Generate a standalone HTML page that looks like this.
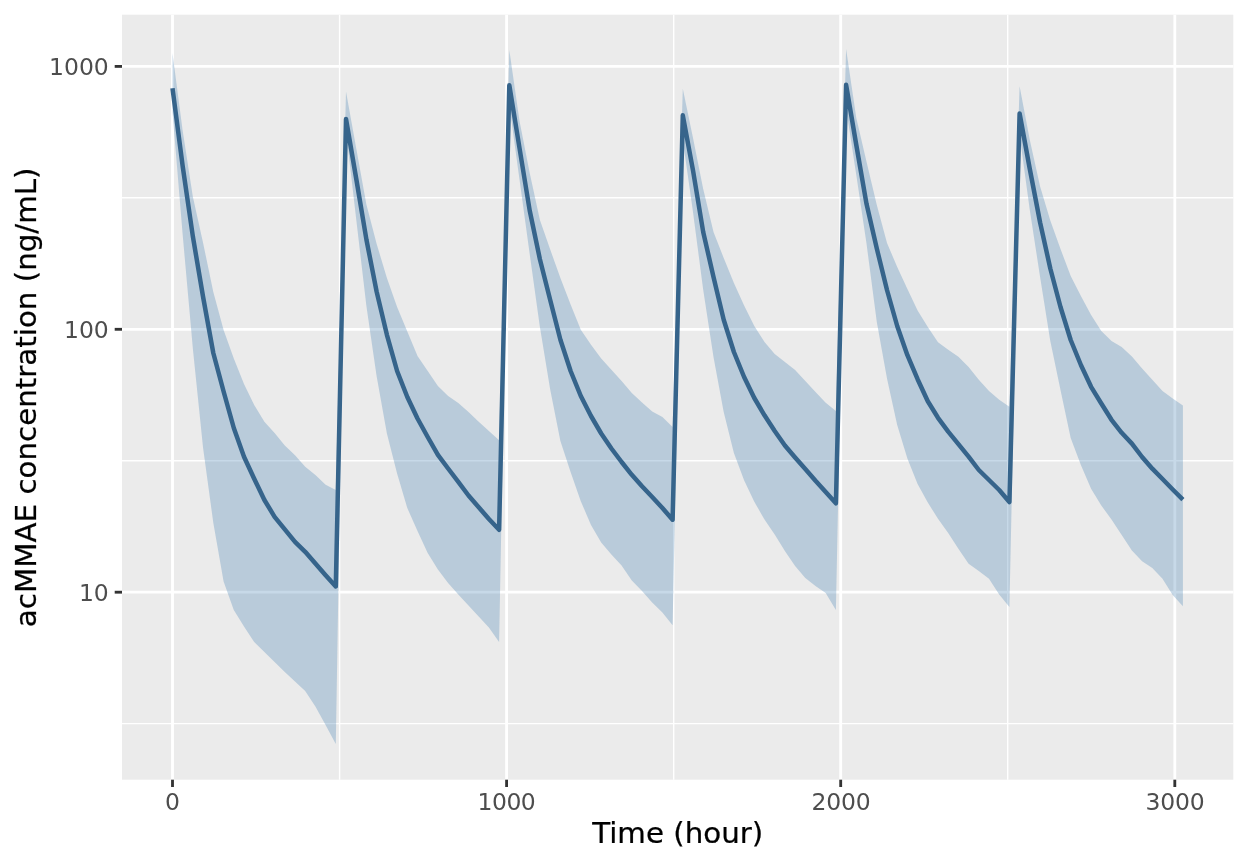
<!DOCTYPE html>
<html lang="en">
<head>
<meta charset="utf-8">
<title>acMMAE concentration vs time</title>
<style>
html,body{margin:0;padding:0;background:#fff;}
body{width:1248px;height:864px;overflow:hidden;}
svg{display:block;}
text{font-family:"DejaVu Sans","Liberation Sans",sans-serif;}
.tick{font-size:23.47px;fill:#4d4d4d;}
.title{font-size:29.33px;fill:#000;stroke:#000;stroke-width:0.25px;}
</style>
</head>
<body>
<svg width="1248" height="864" viewBox="0 0 1248 864">
<rect x="0" y="0" width="1248" height="864" fill="#ffffff"/>
<rect x="122" y="14.7" width="1111.3" height="765" fill="#ebebeb"/>
<g stroke="#ffffff" stroke-width="1.42" fill="none">
<line x1="122" x2="1233.3" y1="197.8" y2="197.8"/>
<line x1="122" x2="1233.3" y1="460.8" y2="460.8"/>
<line x1="122" x2="1233.3" y1="723.6" y2="723.6"/>
<line x1="339.6" x2="339.6" y1="14.7" y2="779.7"/>
<line x1="673.7" x2="673.7" y1="14.7" y2="779.7"/>
<line x1="1007.7" x2="1007.7" y1="14.7" y2="779.7"/>
</g>
<g stroke="#ffffff" stroke-width="2.84" fill="none">
<line x1="122" x2="1233.3" y1="66.4" y2="66.4"/>
<line x1="122" x2="1233.3" y1="329.3" y2="329.3"/>
<line x1="122" x2="1233.3" y1="592.2" y2="592.2"/>
<line x1="172.5" x2="172.5" y1="14.7" y2="779.7"/>
<line x1="506.6" x2="506.6" y1="14.7" y2="779.7"/>
<line x1="840.7" x2="840.7" y1="14.7" y2="779.7"/>
<line x1="1174.8" x2="1174.8" y1="14.7" y2="779.7"/>
</g>
<polygon fill="#4682b4" fill-opacity="0.3" points="172.5,53.3 182.7,131 192.9,197 203.1,243 213.3,292 223.6,330 233.8,358.5 244,384 254.2,405 264.4,421.7 274.6,433 284.8,445.5 295,455.2 305.2,466.7 315.4,475 325.6,484.7 335.8,490 346,91.5 356.2,148.3 366.4,204.4 376.6,243.8 386.9,278 397.1,307 407.3,331.5 417.5,356 427.7,371 437.9,386 448.1,396 458.3,403 468.5,412 478.7,421.8 488.9,431 499.1,440.3 509.3,50 519.5,121 529.7,173 539.9,220 550.2,249.5 560.4,278 570.6,304.5 580.8,329.8 591,344.8 601.2,358.5 611.4,369.8 621.6,381 631.8,393 642,402.5 652.2,411.5 662.4,417 672.6,427 682.8,88.8 693,138 703.2,189 713.5,232 723.7,258 733.9,283 744.1,305.5 754.3,326 764.5,342 774.7,354 784.9,362 795.1,370 805.3,381 815.5,392 825.7,402.8 835.9,411 846.1,49 856.3,118 866.5,161.8 876.8,205 887,243 897.2,267 907.4,289 917.6,310.5 927.8,327 938,342.2 948.2,349.8 958.4,356.8 968.6,367 978.8,379.8 989,391 999.2,399.8 1009.4,406.8 1019.6,86.2 1029.8,140 1040.1,186.5 1050.3,220.5 1060.5,249 1070.7,276 1080.9,296 1091.1,315 1101.3,331 1111.5,341 1121.7,347 1131.9,356.5 1142.1,368.5 1152.3,379.8 1162.5,391 1172.7,398.5 1182.9,405.5 1182.9,606.3 1172.7,595 1162.5,578.8 1152.3,568 1142.1,561.3 1131.9,550.5 1121.7,535 1111.5,519.5 1101.3,505.5 1091.1,488.8 1080.9,465 1070.7,438 1060.5,390 1050.3,341 1040.1,277 1029.8,210 1019.6,135 1009.4,607 999.2,594.5 989,578.8 978.8,571 968.6,563.8 958.4,548.8 948.2,533 938,518.8 927.8,502.5 917.6,484 907.4,458.5 897.2,425 887,378.5 876.8,322 866.5,243.5 856.3,175 846.1,108 835.9,610 825.7,593 815.5,586 805.3,578 795.1,566 784.9,551 774.7,534.5 764.5,519.5 754.3,501.7 744.1,480.3 733.9,453 723.7,412 713.5,357 703.2,289.8 693,212 682.8,140 672.6,625.3 662.4,612.5 652.2,602.5 642,591 631.8,580.5 621.6,565.5 611.4,554.5 601.2,542.5 591,525 580.8,501.2 570.6,472 560.4,441 550.2,389.5 539.9,327 529.7,254 519.5,179.5 509.3,105 499.1,642 488.9,627.5 478.7,616.5 468.5,605.5 458.3,594.5 448.1,583 437.9,569.5 427.7,553 417.5,531 407.3,508 397.1,473.5 386.9,433.5 376.6,376 366.4,306 356.2,219 346,131 335.8,744 325.6,725 315.4,706.5 305.2,691 295,681.5 284.8,672 274.6,662 264.4,652 254.2,642 244,626.5 233.8,610 223.6,581.5 213.3,522.8 203.1,448 192.9,349 182.7,235 172.5,112"/>
<polyline fill="none" stroke="#36648b" stroke-width="4.5" stroke-linejoin="round" stroke-linecap="butt" points="172.5,88.3 182.7,166.4 192.9,236.7 203.1,297 213.3,353 223.6,391.5 233.8,428 244,456.8 254.2,478.8 264.4,500 274.6,516.8 284.8,529.3 295,541.8 305.2,551.8 315.4,563.5 325.6,575.2 335.8,586.4 346,119 356.2,178.5 366.4,239.5 376.6,291.5 386.9,334.8 397.1,371 407.3,397 417.5,418.5 427.7,437 437.9,454.8 448.1,468.5 458.3,481.8 468.5,495.5 478.7,507.2 488.9,519 499.1,529.8 509.3,85.2 519.5,148 529.7,210.5 539.9,259.2 550.2,300 560.4,339.8 570.6,371 580.8,396 591,416 601.2,433.5 611.4,448.5 621.6,462 631.8,474.8 642,486.3 652.2,497 662.4,508 672.6,519.7 682.8,115.3 693,170.3 703.2,232 713.5,277 723.7,319.8 733.9,352 744.1,377 754.3,398 764.5,415.3 774.7,431 784.9,445.5 795.1,457.5 805.3,469 815.5,480.8 825.7,492 835.9,503.3 846.1,84.8 856.3,145 866.5,203.8 876.8,248.5 887,290 897.2,326 907.4,355.2 917.6,379.2 927.8,401.3 938,417.8 948.2,431.7 958.4,444.2 968.6,456.7 978.8,470 989,480 999.2,490 1009.4,502 1019.6,113.5 1029.8,169 1040.1,222.5 1050.3,268.5 1060.5,307 1070.7,340 1080.9,365 1091.1,386.8 1101.3,403.5 1111.5,419.8 1121.7,432.8 1131.9,443.6 1142.1,457 1152.3,468.7 1162.5,479 1172.7,489.5 1182.9,499.6"/>
<g stroke="#333333" stroke-width="2.84" fill="none">
<line x1="114.7" x2="122" y1="66.4" y2="66.4"/>
<line x1="114.7" x2="122" y1="329.3" y2="329.3"/>
<line x1="114.7" x2="122" y1="592.2" y2="592.2"/>
<line x1="172.5" x2="172.5" y1="779.7" y2="787"/>
<line x1="506.6" x2="506.6" y1="779.7" y2="787"/>
<line x1="840.7" x2="840.7" y1="779.7" y2="787"/>
<line x1="1174.8" x2="1174.8" y1="779.7" y2="787"/>
</g>
<text class="tick" x="108.8" y="74.9" text-anchor="end">1000</text>
<text class="tick" x="108.8" y="337.8" text-anchor="end">100</text>
<text class="tick" x="108.8" y="600.7" text-anchor="end">10</text>
<text class="tick" x="172.5" y="810" text-anchor="middle" letter-spacing="0">0</text>
<text class="tick" x="506.4" y="810" text-anchor="middle" letter-spacing="-0.45">1000</text>
<text class="tick" x="840.9" y="810" text-anchor="middle" letter-spacing="-0.18">2000</text>
<text class="tick" x="1174.9" y="810" text-anchor="middle" letter-spacing="-0.18">3000</text>
<text class="title" transform="translate(677.7,842.9) scale(1,0.97)" text-anchor="middle">Time (hour)</text>
<text class="title" transform="translate(36,397.3) rotate(-90) scale(1,0.97)" text-anchor="middle">acMMAE concentration (ng/mL)</text>
</svg>
</body>
</html>
